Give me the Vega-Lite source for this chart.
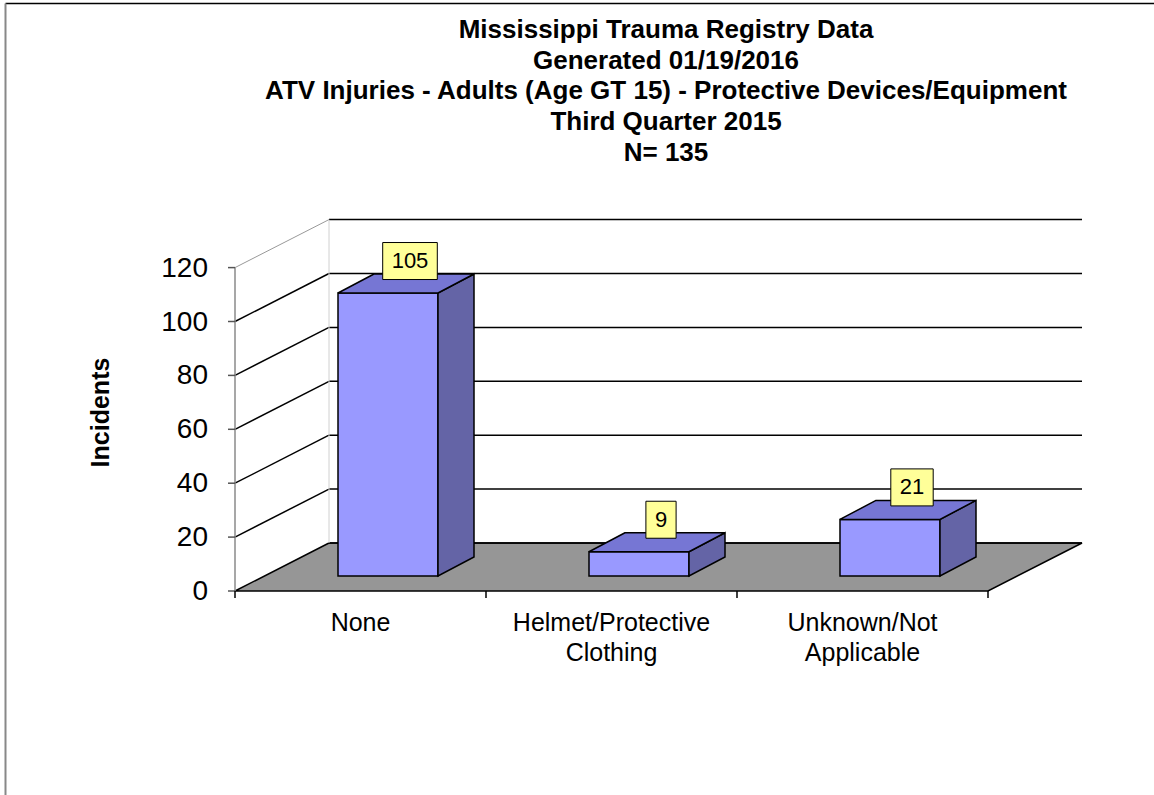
{
  "$schema": "https://vega.github.io/schema/vega-lite/v6.json",
  "width": 1149,
  "height": 792,
  "autosize": {"type": "none"},
  "padding": {"left": 5, "top": 3, "right": 0, "bottom": 0},
  "background": "white",
  "title": {
    "text": ["Mississippi Trauma Registry Data", "Generated 01/19/2016", "ATV Injuries - Adults (Age GT 15) - Protective Devices/Equipment", "Third Quarter 2015", "N= 135"],
    "anchor": "middle",
    "frame": "group",
    "orient": "top",
    "dx": 86.5,
    "offset": -189,
    "baseline": "bottom",
    "font": "Liberation Sans",
    "fontSize": 26,
    "fontWeight": "bold",
    "color": "black",
    "lineHeight": 30.8
  },
  "config": {"view": {"stroke": null}, "font": "Liberation Sans"},
  "datasets": {
    "bars": [
      {"category": "None", "incidents": 105},
      {"category": "Helmet/Protective Clothing", "incidents": 9},
      {"category": "Unknown/Not Applicable", "incidents": 21}
    ],
    "ticks": [{"t": 0}, {"t": 20}, {"t": 40}, {"t": 60}, {"t": 80}, {"t": 100}, {"t": 120}]
  },
  "layer": [
    {
      "data": {"name": "ticks"},
      "transform": [
        {"filter": "datum.t == 0"},
        {"quantile": "t", "probs": [0, 1], "as": ["p", "v"]},
        {"calculate": "datum.p * 17.811", "as": "fy"},
        {"calculate": "datum.p * 0.3745", "as": "fx1"},
        {"calculate": "3 + datum.p * 0.3745", "as": "fx2"}
      ],
      "mark": {"type": "area", "orient": "horizontal", "fill": "#969696", "stroke": "black", "strokeWidth": 1.5},
      "encoding": {
        "y": {"field": "fy", "type": "quantitative", "scale": {"type": "linear", "domain": [-75.696, 218.182], "nice": false, "zero": false},
          "axis": {"orient": "left", "offset": 0, "domain": true, "domainColor": "#888888", "domainWidth": 2, "ticks": false, "labels": false, "grid": false,
            "title": "Incidents", "titleFont": "Liberation Sans", "titleFontSize": 25, "titleFontWeight": "bold", "titleColor": "black",
            "titleX": 95, "titleY": 409, "titleAngle": -90, "titleAlign": "center", "titleBaseline": "middle"}},
        "x": {"field": "fx1", "type": "quantitative", "stack": null, "scale": {"type": "linear", "domain": [-0.916335, 3.661355], "nice": false, "zero": false},
          "axis": {"orient": "top", "offset": 0, "domain": true, "domainColor": "black", "domainWidth": 1.5, "ticks": false, "labels": false, "grid": false, "title": null}},
        "x2": {"field": "fx2"}
      }
    },
    {
      "data": {"name": "ticks"},
      "mark": {"type": "rule", "color": "black", "strokeWidth": 1.5, "xOffset": 94, "x2Offset": 94, "yOffset": -48, "y2Offset": -48},
      "encoding": {
        "x": {"datum": 0, "type": "quantitative", "scale": {"type": "linear", "domain": [-0.916335, 3.661355], "nice": false, "zero": false}},
        "x2": {"datum": 3},
        "y": {"field": "t", "type": "quantitative", "scale": {"type": "linear", "domain": [-75.696, 218.182], "nice": false, "zero": false}},
        "y2": {"field": "t"}
      }
    },
    {
      "data": {"name": "ticks"},
      "transform": [{"filter": "datum.t > 0 && datum.t < 120"}],
      "mark": {"type": "rule", "color": "black", "strokeWidth": 1.5, "x2Offset": 94, "y2Offset": -48},
      "encoding": {
        "x": {"datum": 0, "type": "quantitative", "scale": {"type": "linear", "domain": [-0.916335, 3.661355], "nice": false, "zero": false}},
        "x2": {"datum": 0},
        "y": {"field": "t", "type": "quantitative", "scale": {"type": "linear", "domain": [-75.696, 218.182], "nice": false, "zero": false}},
        "y2": {"field": "t"}
      }
    },
    {
      "data": {"name": "ticks"},
      "transform": [{"filter": "datum.t == 120"}],
      "mark": {"type": "rule", "color": "#999999", "strokeWidth": 1, "x2Offset": 94, "y2Offset": -48},
      "encoding": {
        "x": {"datum": 0, "type": "quantitative", "scale": {"type": "linear", "domain": [-0.916335, 3.661355], "nice": false, "zero": false}},
        "x2": {"datum": 0},
        "y": {"field": "t", "type": "quantitative", "scale": {"type": "linear", "domain": [-75.696, 218.182], "nice": false, "zero": false}},
        "y2": {"field": "t"}
      }
    },
    {
      "data": {"name": "ticks"},
      "transform": [{"filter": "datum.t == 0"}],
      "mark": {"type": "rule", "color": "#d0d0d0", "strokeWidth": 1, "xOffset": 94, "yOffset": -48, "y2Offset": -48},
      "encoding": {
        "x": {"datum": 0, "type": "quantitative", "scale": {"type": "linear", "domain": [-0.916335, 3.661355], "nice": false, "zero": false}},
        "y": {"datum": 0, "type": "quantitative", "scale": {"type": "linear", "domain": [-75.696, 218.182], "nice": false, "zero": false}},
        "y2": {"datum": 120}
      }
    },
    {
      "data": {"name": "ticks"},
      "transform": [{"filter": "datum.t == 0"}],
      "mark": {"type": "rule", "color": "#8a8a8a", "strokeWidth": 1.5},
      "encoding": {
        "x": {"datum": 0, "type": "quantitative", "scale": {"type": "linear", "domain": [-0.916335, 3.661355], "nice": false, "zero": false}},
        "y": {"datum": 0, "type": "quantitative", "scale": {"type": "linear", "domain": [-75.696, 218.182], "nice": false, "zero": false}},
        "y2": {"datum": 120}
      }
    },
    {
      "data": {"name": "ticks"},
      "mark": {"type": "rule", "color": "#555555", "strokeWidth": 1.5, "x2Offset": -7},
      "encoding": {
        "x": {"datum": 0, "type": "quantitative", "scale": {"type": "linear", "domain": [-0.916335, 3.661355], "nice": false, "zero": false}},
        "x2": {"datum": 0},
        "y": {"field": "t", "type": "quantitative", "scale": {"type": "linear", "domain": [-75.696, 218.182], "nice": false, "zero": false}},
        "y2": {"field": "t"}
      }
    },
    {
      "data": {"name": "ticks"},
      "mark": {"type": "text", "font": "Liberation Sans", "fontSize": 28, "color": "black", "align": "right", "baseline": "middle", "xOffset": -27, "yOffset": 1},
      "encoding": {
        "x": {"datum": 0, "type": "quantitative", "scale": {"type": "linear", "domain": [-0.916335, 3.661355], "nice": false, "zero": false}},
        "y": {"field": "t", "type": "quantitative", "scale": {"type": "linear", "domain": [-75.696, 218.182], "nice": false, "zero": false}},
        "text": {"field": "t", "type": "quantitative"}
      }
    },
    {
      "data": {"name": "bars"},
      "transform": [
        {"window": [{"op": "row_number", "as": "rn"}]},
        {"calculate": "datum.rn - 1", "as": "idx"}
      ],
      "mark": {"type": "rule", "color": "black", "strokeWidth": 1.5, "y2Offset": 7},
      "encoding": {
        "x": {"field": "idx", "type": "quantitative", "scale": {"type": "linear", "domain": [-0.916335, 3.661355], "nice": false, "zero": false}},
        "y": {"datum": 0, "type": "quantitative", "scale": {"type": "linear", "domain": [-75.696, 218.182], "nice": false, "zero": false}},
        "y2": {"datum": 0}
      }
    },
    {
      "data": {"name": "ticks"},
      "transform": [{"filter": "datum.t == 0"}],
      "mark": {"type": "rule", "color": "black", "strokeWidth": 1.5, "y2Offset": 7},
      "encoding": {
        "x": {"datum": 3, "type": "quantitative", "scale": {"type": "linear", "domain": [-0.916335, 3.661355], "nice": false, "zero": false}},
        "y": {"datum": 0, "type": "quantitative", "scale": {"type": "linear", "domain": [-75.696, 218.182], "nice": false, "zero": false}},
        "y2": {"datum": 0}
      }
    },
    {
      "data": {"name": "bars"},
      "transform": [
        {"window": [{"op": "row_number", "as": "rn"}]},
        {"calculate": "datum.rn - 1", "as": "idx"}
      ],
      "mark": {"type": "rect", "fill": "#9999FF", "stroke": "black", "strokeWidth": 1.5, "xOffset": 103, "x2Offset": 203, "yOffset": -15, "y2Offset": -15},
      "encoding": {
        "x": {"field": "idx", "type": "quantitative", "scale": {"type": "linear", "domain": [-0.916335, 3.661355], "nice": false, "zero": false}},
        "x2": {"field": "idx"},
        "y": {"field": "incidents", "type": "quantitative", "stack": null, "scale": {"type": "linear", "domain": [-75.696, 218.182], "nice": false, "zero": false}},
        "y2": {"datum": 0}
      }
    },
    {
      "data": {"name": "bars"},
      "transform": [
        {"window": [{"op": "row_number", "as": "rn"}]},
        {"calculate": "datum.rn - 1", "as": "idx"},
        {"quantile": "incidents", "groupby": ["category", "idx"], "probs": [0, 1], "as": ["p", "v"]},
        {"calculate": "datum.idx + (203 + 36 * datum.p) / 251", "as": "sx"},
        {"calculate": "(15 + 19 * datum.p) / 2.695", "as": "sy"},
        {"calculate": "datum.v + (15 + 19 * datum.p) / 2.695", "as": "sy2"}
      ],
      "mark": {"type": "area", "orient": "vertical", "fill": "#6464A6", "stroke": "black", "strokeWidth": 1.5},
      "encoding": {
        "x": {"field": "sx", "type": "quantitative", "scale": {"type": "linear", "domain": [-0.916335, 3.661355], "nice": false, "zero": false}},
        "y": {"field": "sy2", "type": "quantitative", "stack": null, "scale": {"type": "linear", "domain": [-75.696, 218.182], "nice": false, "zero": false}},
        "y2": {"field": "sy"},
        "detail": {"field": "category"}
      }
    },
    {
      "data": {"name": "bars"},
      "transform": [
        {"window": [{"op": "row_number", "as": "rn"}]},
        {"calculate": "datum.rn - 1", "as": "idx"},
        {"quantile": "incidents", "groupby": ["category", "idx"], "probs": [0, 1], "as": ["p", "v"]},
        {"calculate": "datum.v + (15 + 19 * datum.p) / 2.695", "as": "ty"},
        {"calculate": "datum.idx + (103 + 36 * datum.p) / 251", "as": "tx1"},
        {"calculate": "datum.idx + (203 + 36 * datum.p) / 251", "as": "tx2"}
      ],
      "mark": {"type": "area", "orient": "horizontal", "fill": "#7676D4", "stroke": "black", "strokeWidth": 1.5},
      "encoding": {
        "y": {"field": "ty", "type": "quantitative", "scale": {"type": "linear", "domain": [-75.696, 218.182], "nice": false, "zero": false}},
        "x": {"field": "tx1", "type": "quantitative", "stack": null, "scale": {"type": "linear", "domain": [-0.916335, 3.661355], "nice": false, "zero": false}},
        "x2": {"field": "tx2"},
        "detail": {"field": "category"}
      }
    },
    {
      "data": {"name": "bars"},
      "transform": [
        {"window": [{"op": "row_number", "as": "rn"}]},
        {"calculate": "datum.rn - 1", "as": "idx"},
        {"calculate": "(9 + 6.1 * length(toString(datum.incidents))) / 251", "as": "hw"},
        {"calculate": "datum.idx + 175 / 251 - datum.hw", "as": "bx1"},
        {"calculate": "datum.idx + 175 / 251 + datum.hw", "as": "bx2"}
      ],
      "mark": {"type": "rect", "fill": "#FFFF99", "stroke": "black", "strokeWidth": 1, "yOffset": -65.5, "y2Offset": -28.5},
      "encoding": {
        "x": {"field": "bx1", "type": "quantitative", "scale": {"type": "linear", "domain": [-0.916335, 3.661355], "nice": false, "zero": false}},
        "x2": {"field": "bx2"},
        "y": {"field": "incidents", "type": "quantitative", "scale": {"type": "linear", "domain": [-75.696, 218.182], "nice": false, "zero": false}},
        "y2": {"field": "incidents"}
      }
    },
    {
      "data": {"name": "bars"},
      "transform": [
        {"window": [{"op": "row_number", "as": "rn"}]},
        {"calculate": "datum.rn - 1", "as": "idx"}
      ],
      "mark": {"type": "text", "font": "Liberation Sans", "fontSize": 22, "color": "black", "align": "center", "baseline": "middle", "xOffset": 175, "yOffset": -47},
      "encoding": {
        "x": {"field": "idx", "type": "quantitative", "scale": {"type": "linear", "domain": [-0.916335, 3.661355], "nice": false, "zero": false}},
        "y": {"field": "incidents", "type": "quantitative", "scale": {"type": "linear", "domain": [-75.696, 218.182], "nice": false, "zero": false}},
        "text": {"field": "incidents", "type": "quantitative"}
      }
    },
    {
      "data": {"name": "bars"},
      "transform": [
        {"window": [{"op": "row_number", "as": "rn"}]},
        {"calculate": "datum.rn - 1", "as": "idx"}
      ],
      "mark": {"type": "text", "font": "Liberation Sans", "fontSize": 25, "color": "black", "align": "center", "baseline": "top", "lineBreak": " ", "lineHeight": 30, "xOffset": 125.5, "yOffset": 20},
      "encoding": {
        "x": {"field": "idx", "type": "quantitative", "scale": {"type": "linear", "domain": [-0.916335, 3.661355], "nice": false, "zero": false}},
        "y": {"datum": 0, "type": "quantitative", "scale": {"type": "linear", "domain": [-75.696, 218.182], "nice": false, "zero": false}},
        "text": {"field": "category", "type": "nominal"}
      }
    }
  ]
}
